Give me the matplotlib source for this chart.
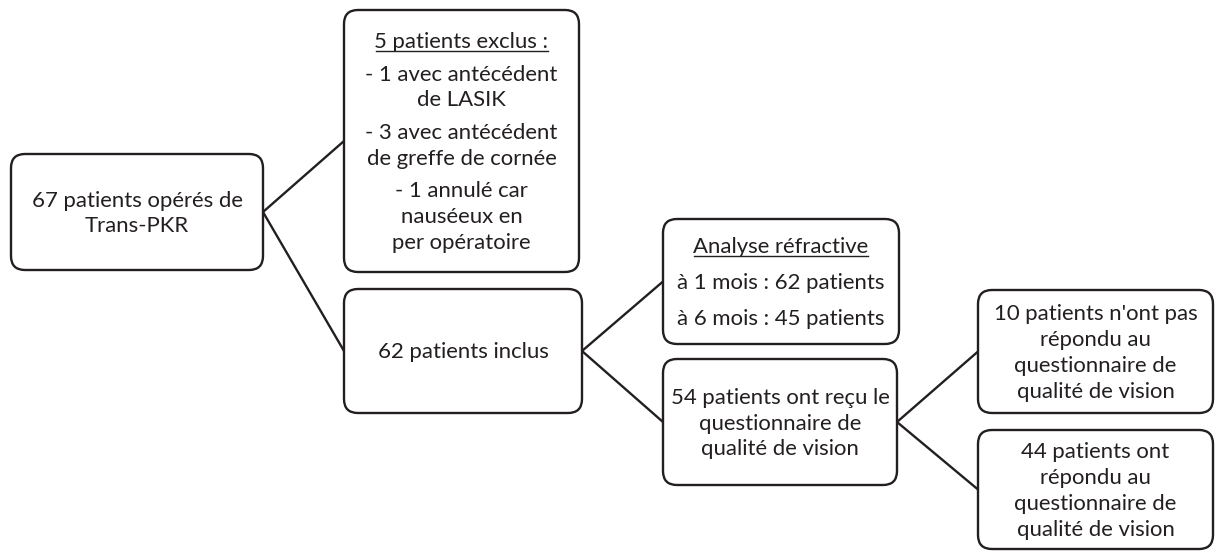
import matplotlib
matplotlib.use("Agg")
import matplotlib.pyplot as plt
from matplotlib.patches import FancyBboxPatch

plt.rcParams['font.family'] = ['Lato', 'DejaVu Sans']

INK = "#231f20"

# box texts (each paragraph is a list of lines)
txt_start = [["67 patients opérés de", "Trans-PKR"]]
txt_excl = [["5 patients exclus :"],
            ["- 1 avec antécédent", "de LASIK"],
            ["- 3 avec antécédent", "de greffe de cornée"],
            ["- 1 annulé car", "nauséeux en", "per opératoire"]]
txt_incl = [["62 patients inclus"]]
txt_refr = [["Analyse réfractive"], ["à 1 mois : 62 patients"], ["à 6 mois : 45 patients"]]
txt_quest = [["54 patients ont reçu le", "questionnaire de", "qualité de vision"]]
txt_noans = [["10 patients n'ont pas", "répondu au", "questionnaire de", "qualité de vision"]]
txt_ans = [["44 patients ont", "répondu au", "questionnaire de", "qualité de vision"]]

# box geometry in pixels: x0, y0, x1, y1
boxes = {
    "start": (11, 154, 263, 270),
    "excl": (344, 10, 579, 272),
    "incl": (344, 289, 582, 413),
    "refr": (663, 219, 899, 344),
    "quest": (663, 359, 897, 485),
    "noans": (978, 290, 1213, 413),
    "ans": (978, 430, 1213, 549),
}
texts = {"start": txt_start, "excl": txt_excl, "incl": txt_incl, "refr": txt_refr,
         "quest": txt_quest, "noans": txt_noans, "ans": txt_ans}
underlined = {"excl": 0, "refr": 0}
links = [("start", "excl"), ("start", "incl"), ("incl", "refr"), ("incl", "quest"),
         ("quest", "noans"), ("quest", "ans")]

W, H = 1217, 551
fig = plt.figure(figsize=(W / 100, H / 100), dpi=100)
ax = fig.add_axes([0, 0, 1, 1])
ax.set_xlim(0, W)
ax.set_ylim(H, 0)
ax.axis("off")

LINE = 25.8   # line spacing inside a paragraph
PARA = 32.5   # spacing between paragraphs
FS = 15.9

for key, (x0, y0, x1, y1) in boxes.items():
    ax.add_patch(FancyBboxPatch((x0, y0), x1 - x0, y1 - y0,
                                boxstyle="round,pad=0,rounding_size=14",
                                fc="white", ec=INK, lw=1.7, zorder=2))
    paras = texts[key]
    sp = PARA if key != "refr" else 36.0
    total = sum(len(p) - 1 for p in paras) * LINE + (len(paras) - 1) * sp
    y = (y0 + y1) / 2 - total / 2 + 1.5
    cx = (x0 + x1) / 2
    for i, p in enumerate(paras):
        for j, line in enumerate(p):
            t = ax.text(cx, y, line, ha="center", va="center", fontsize=FS,
                        color=INK, zorder=3)
            if underlined.get(key) == i:
                fig.canvas.draw()
                bb = t.get_window_extent()
                uy = H - bb.y0 - 1
                ax.plot([bb.x0 + 1, bb.x1 - 1], [uy, uy], color=INK, lw=1.0, zorder=3)
            if j < len(p) - 1:
                y += LINE
        y += sp

for a, b in links:
    xa0, ya0, xa1, ya1 = boxes[a]
    xb0, yb0, xb1, yb1 = boxes[b]
    ax.plot([xa1, xb0], [(ya0 + ya1) / 2, (yb0 + yb1) / 2], color=INK, lw=1.7,
            zorder=1, solid_capstyle="round")

fig.savefig("out.png", dpi=100, facecolor="white")
